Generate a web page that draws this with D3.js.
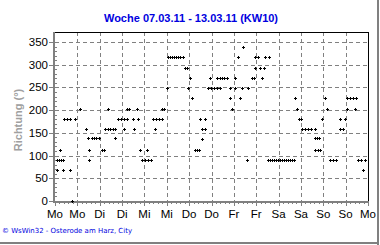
<!DOCTYPE html>
<html><head><meta charset="utf-8">
<script src="https://cdn.jsdelivr.net/npm/d3@7"></script>
<style>body{margin:0;background:#fff}svg{display:block}</style>
</head><body>
<svg id="c" width="380" height="245"></svg>
<script>
const titleText = "Woche 07.03.11 - 13.03.11 (KW10)";
const yLabel = "Richtung (°)";
const footer = "© WsWin32  -  Osterode am Harz, City";
const dayLabels = ["Mo","Mo","Di","Di","Mi","Mi","Do","Do","Fr","Fr","Sa","Sa","So","So","Mo"];
const yTicks = [0,50,100,150,200,250,300,350];
// hours since Monday 00:00
const hours = [0.9,1.1,2.1,2.7,3.2,4.3,4.5,4.8,6.4,8.1,8.1,9.0,10.7,13.4,16.6,17.9,18.2,18.3,19.9,20.9,22.0,23.6,
25.2,26.3,26.8,28.2,28.6,29.5,30.9,32.2,32.3,33.8,35.4,37.0,37.0,38.6,38.6,39.7,41.9,42.4,44.0,44.5,45.6,46.7,48.3,49.2,49.9,
51.5,52.6,53.7,54.2,55.8,57.4,57.4,58.5,59.9,60.6,61.7,62.8,63.9,64.9,66.0,67.1,68.7,69.8,70.8,71.5,72.5,73.4,
75.1,76.2,77.3,77.8,78.7,78.9,80.5,80.5,82.1,83.2,83.7,85.3,86.8,87.0,88.6,88.6,89.6,90.7,92.2,93.9,93.9,94.8,96.6,96.6,
98.4,99.3,100.2,101.1,102.9,103.7,105.7,106.8,107.3,107.3,109.0,110.0,110.9,112.2,112.7,114.9,
114.3,115.4,116.5,117.5,118.6,119.7,120.8,121.8,122.9,124.0,125.1,126.1,127.2,128.3,
128.8,129.7,131.0,132.0,132.6,134.2,135.8,137.4,139.5,139.5,140.6,141.7,139.5,140.9,142.2,143.1,144.9,145.8,
147.6,149.2,150.8,153.0,153.0,154.5,155.6,156.7,156.7,158.3,159.9,161.0,161.5,162.6,164.2,165.1,166.4];
const direction = [68,90,90,112,90,90,68,180,180,68,180,0,180,202,158,138,112,90,138,138,138,138,
112,112,158,158,202,158,158,158,138,180,180,180,158,180,202,202,180,158,202,180,112,90,90,112,90,
90,180,158,180,180,180,202,202,249,317,317,317,317,317,317,317,317,293,293,249,271,227,
112,112,112,180,137,158,180,158,249,271,249,249,271,249,271,249,271,271,271,249,227,202,271,249,
317,227,249,339,90,249,271,271,293,317,317,293,271,293,317,317,
90,90,90,90,90,90,90,90,90,90,90,90,90,90,
227,202,180,180,158,158,158,158,158,138,138,138,112,112,112,180,227,202,
90,90,90,180,158,158,180,227,202,227,227,202,227,90,90,68,90];

const svg = d3.select("#c");
svg.append("rect").attr("width",380).attr("height",245).attr("fill","#fff");
const L=55, R=368, T=32, B=201;
const x = d3.scaleLinear().domain([0,168]).range([L,R]);
const y = d3.scaleLinear().domain([0,350]).range([B,42]);

// outer shadow border
svg.append("rect").attr("x",377).attr("y",0).attr("width",2).attr("height",245).attr("fill","#808080");
svg.append("rect").attr("x",0).attr("y",242).attr("width",379).attr("height",2).attr("fill","#808080");

// grid
const g = svg.append("g");
g.selectAll(".hg").data(yTicks.filter(d=>d>0)).join("line")
 .attr("x1",L).attr("x2",R).attr("y1",d=>Math.round(y(d))+0.5).attr("y2",d=>Math.round(y(d))+0.5)
 .attr("stroke","#808080").attr("stroke-dasharray","4,3");
g.selectAll(".vg").data(d3.range(1,14)).join("line")
 .attr("x1",d=>Math.round(x(d*12))+0.5).attr("x2",d=>Math.round(x(d*12))+0.5).attr("y1",T).attr("y2",B)
 .attr("stroke","#808080").attr("stroke-dasharray","4,3");

// frame top/right
svg.append("line").attr("x1",L).attr("x2",R+0.5).attr("y1",T+0.5).attr("y2",T+0.5).attr("stroke","#000");
svg.append("line").attr("x1",R+0.5).attr("x2",R+0.5).attr("y1",T).attr("y2",B).attr("stroke","#000");

// minor ticks
svg.selectAll(".mx").data(d3.range(0,71)).join("line")
 .attr("x1",d=>Math.round(x(d*2.4))+0.5).attr("x2",d=>Math.round(x(d*2.4))+0.5)
 .attr("y1",B+1).attr("y2",d=>d%5===0?B+5:B+3).attr("stroke","#808080");
svg.selectAll(".my").data(d3.range(0,36)).join("line")
 .attr("y1",d=>Math.round(y(d*10))+0.5).attr("y2",d=>Math.round(y(d*10))+0.5)
 .attr("x1",L-1).attr("x2",L+2).attr("stroke","#808080");
svg.selectAll(".My").data(yTicks).join("line")
 .attr("y1",d=>Math.round(y(d))+0.5).attr("y2",d=>Math.round(y(d))+0.5)
 .attr("x1",L-6).attr("x2",L-1).attr("stroke","#808080");

// axes (gray thick)
svg.append("rect").attr("x",L-2).attr("y",T).attr("width",2).attr("height",B-T+2).attr("fill","#808080");
svg.append("rect").attr("x",L-2).attr("y",B).attr("width",R-L+3).attr("height",2).attr("fill","#808080");

// tick labels
svg.selectAll(".yl").data(yTicks).join("text")
 .attr("x",L-7).attr("y",d=>y(d)+4).attr("text-anchor","end")
 .attr("font-family","Liberation Sans, Arial, sans-serif").attr("font-size",11.5).attr("fill","#000").text(d=>d);
svg.selectAll(".xl").data(dayLabels).join("text")
 .attr("x",(d,i)=>x(i*12)).attr("y",218).attr("text-anchor","middle")
 .attr("font-family","Liberation Sans, Arial, sans-serif").attr("font-size",11.5).attr("fill","#000").text(d=>d);

// title
svg.append("text").attr("x",191).attr("y",22).attr("text-anchor","middle")
 .attr("font-family","Liberation Sans, Arial, sans-serif").attr("font-weight","bold").attr("font-size",11)
 .attr("fill","#0000e0").text(titleText);
// y label
svg.append("text").attr("transform","translate(22,120) rotate(-90)").attr("text-anchor","middle")
 .attr("font-family","Liberation Sans, Arial, sans-serif").attr("font-weight","bold").attr("font-size",11)
 .attr("fill","#a0a0a0").text(yLabel);
// footer
svg.append("text").attr("x",2).attr("y",233).attr("textLength",130).attr("lengthAdjust","spacingAndGlyphs")
 .attr("font-family","DejaVu Sans, Verdana, sans-serif").attr("font-size",7).attr("fill","#0000e0").text(footer);

// points as small crosses
const pts = hours.map((h,i)=>({h, v:direction[i]}));
const pg = svg.append("g").attr("fill","#000");
pg.selectAll(".ph").data(pts).join("rect")
 .attr("x",d=>Math.round(x(d.h))-1).attr("y",d=>Math.round(y(d.v))).attr("width",3).attr("height",1);
pg.selectAll(".pv").data(pts).join("rect")
 .attr("x",d=>Math.round(x(d.h))).attr("y",d=>Math.round(y(d.v))-1).attr("width",1).attr("height",3);
</script>
</body></html>
